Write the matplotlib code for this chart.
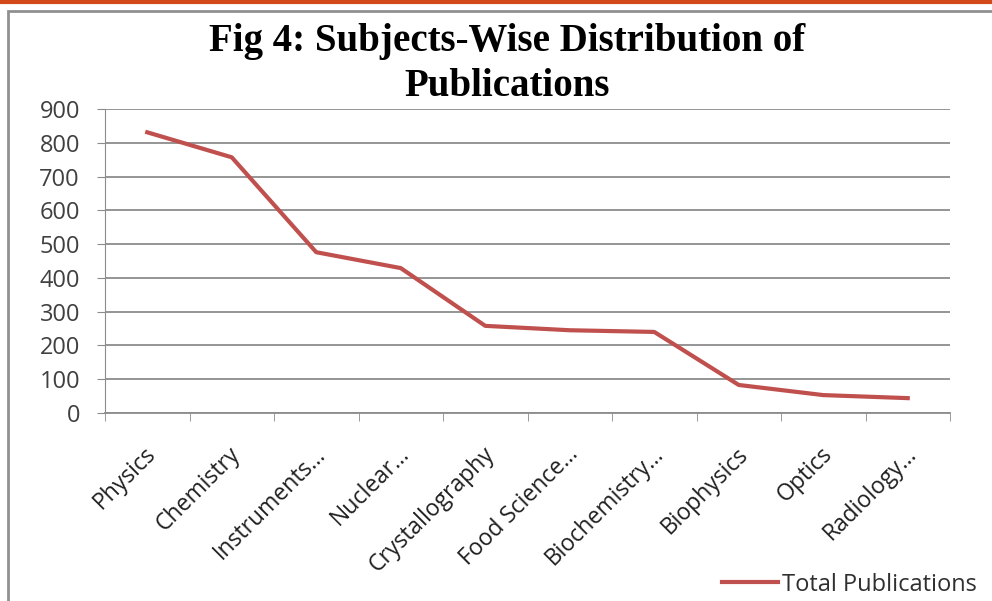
import numpy as np
import matplotlib
matplotlib.use('Agg')
import matplotlib.pyplot as plt
import matplotlib.transforms as mtransforms
from matplotlib.patches import Rectangle
from matplotlib.lines import Line2D

subjects = ['Physics', 'Chemistry', 'Instruments...', 'Nuclear...', 'Crystallography',
            'Food Science...', 'Biochemistry...', 'Biophysics', 'Optics', 'Radiology...']
total_pubs = [831, 757, 476, 429, 258, 245, 240, 83, 53, 44]
yticks = [0, 100, 200, 300, 400, 500, 600, 700, 800, 900]

red = '#C0504D'
grid_grey = '#8C8C8C'
font = 'Open Sans'

fig = plt.figure(figsize=(9.92, 6.01), dpi=100)

# orange rule at the top and the grey chart frame
fig.add_artist(Line2D([0, 1], [0.997, 0.997], color='#D2491A', lw=3, transform=fig.transFigure))
fig.add_artist(Rectangle((8 / 992, -0.01), 1.1, (601 - 11) / 601 + 0.01, transform=fig.transFigure,
                         fill=False, edgecolor='#909090', lw=2))

ax = fig.add_axes([105 / 992, (601 - 413) / 601, 845 / 992, (413 - 109) / 601])
x = np.arange(len(subjects))
ax.plot(x, total_pubs, color=red, lw=3, solid_joinstyle='round', label='Total Publications')

ax.set_xlim(-0.5, len(subjects) - 0.5)
ax.set_ylim(0, 900)
ax.set_yticks(yticks)
ax.set_yticklabels([str(v) for v in yticks], fontsize=17, family=font, color='#404040')
ax.yaxis.grid(True, color=grid_grey, lw=1.3)
ax.set_axisbelow(True)

# category labels sit between boundary ticks
ax.set_xticks(x)
ax.set_xticklabels(subjects, rotation=45, ha='right', rotation_mode='anchor',
                   fontsize=16.5, family=font, color='#202020')
ax.tick_params(axis='x', length=0, pad=21)
shift = mtransforms.ScaledTranslation(-3 / 100, 0, fig.dpi_scale_trans)
for lbl in ax.get_xticklabels():
    lbl.set_transform(lbl.get_transform() + shift)
ax.set_xticks(np.arange(-0.5, len(subjects)), minor=True)
ax.tick_params(axis='x', which='minor', length=6, color=grid_grey, direction='out')
ax.tick_params(axis='y', length=6, color=grid_grey, pad=12)

for s in ['top', 'right']:
    ax.spines[s].set_visible(False)
ax.spines['left'].set_color(grid_grey)
ax.spines['bottom'].set_color(grid_grey)
ax.spines['bottom'].set_linewidth(1.3)

fig.text(0.511, 0.962, 'Fig 4: Subjects-Wise Distribution of\nPublications', ha='center', va='top',
         fontsize=28, fontweight='bold', family='Liberation Serif', linespacing=1.3)

fig.legend(handles=[Line2D([], [], color=red, lw=3)], labels=['Total Publications'],
           loc='lower right', bbox_to_anchor=(1.006, -0.028), frameon=False,
           prop={'family': font, 'size': 17}, handlelength=2.4, handletextpad=0.15,
           labelcolor='#303030')

fig.savefig('out.png', dpi=100, facecolor='white')
